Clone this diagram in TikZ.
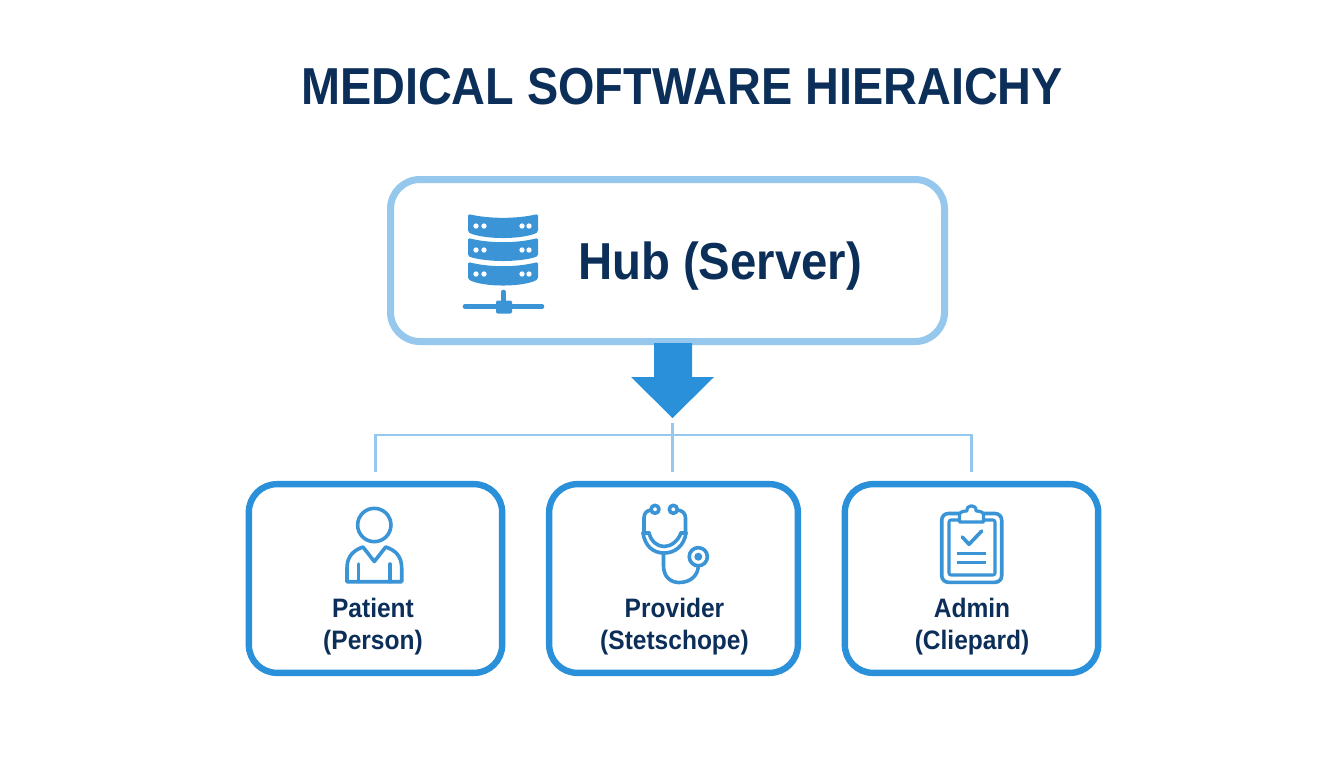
\documentclass[tikz,border=0pt]{standalone}
\usepackage{fontspec}
\usetikzlibrary{calc}
\setmainfont{Liberation Sans}
\newfontfamily\titlefont[FakeStretch=0.9]{Liberation Sans}
\newfontfamily\hubfont[FakeStretch=0.91]{Liberation Sans}
\newfontfamily\labelfont[FakeStretch=0.92]{Liberation Sans}
\definecolor{navy}{HTML}{0C2F5A}
\definecolor{midblue}{HTML}{2B90DA}
\definecolor{iconblue}{HTML}{3A94D6}
\definecolor{lightblue}{HTML}{96C8EE}
\tikzset{
  hubbox/.style={draw=lightblue,line width=5.25pt,rounded corners=22pt,minimum width=415.5pt,minimum height=121.5pt,outer sep=0pt,inner sep=0pt},
  childbox/.style={draw=midblue,line width=4.8pt,rounded corners=21pt,minimum height=141.5pt,outer sep=0pt,inner sep=0pt},
  busline/.style={draw=lightblue,line width=1.9pt},
  icon/.style={draw=iconblue,line width=2.7pt,line join=round,line cap=round},
  lbl/.style={text=navy,font=\labelfont\bfseries\fontsize{20}{24}\selectfont,align=center,inner sep=0pt}
}
\begin{document}
\begin{tikzpicture}[x=0.75pt,y=-0.75pt]
\useasboundingbox (0,0) rectangle (1344,768);
\fill[white] (0,0) rectangle (1344,768);
\node[text=navy,inner sep=0pt,font=\titlefont\bfseries\fontsize{39}{46}\selectfont] (title) at (682,87) {MEDICAL SOFTWARE HIERAICHY};
\node[hubbox] (hub) at (667.5,260.5) {};
\node[text=navy,inner sep=0pt,font=\hubfont\bfseries\fontsize{39}{46}\selectfont] (hublabel) at (720,266) {Hub (Server)};
\node[childbox,minimum width=190pt] (patient) at (375.5,578.5) {};
\node[childbox,minimum width=186.5pt] (provider) at (673.5,578.5) {};
\node[childbox,minimum width=190pt] (admin) at (971.5,578.5) {};
\node[lbl] (patientlabel) at (373,627) {Patient\\(Person)};
\node[lbl] (providerlabel) at (674.5,627) {Provider\\(Stetschope)};
\node[lbl] (adminlabel) at (972,627) {Admin\\(Cliepard)};
% arrow
\coordinate (atip) at (672.5,418);
\fill[midblue] (654,343) -- (692,343) -- (692,377) -- (714,377) -- (atip) -- (631,377) -- (654,377) -- cycle;
% bus
\coordinate (dropy) at (0,472);
\coordinate (busy) at (0,435);
\coordinate (stub) at (672.5,423);
\draw[busline] (patient.north |- dropy) -- (patient.north |- busy) -- (admin.north |- busy) -- (admin.north |- dropy);
\draw[busline] (stub) -- (stub |- dropy);
% server icon
\foreach \t/\d/\s/\b in {214/218/232/238,238/242.5/256/261,262/266.5/279/285.5}{
  \fill[iconblue,rounded corners=1.2pt] (468,\t) .. controls (490,\d+1) and (516,\d+1) .. (538,\t) -- (538,\s) .. controls (531,\b-2) and (516,\b) .. (503,\b) .. controls (490,\b) and (475,\b-2) .. (468,\s) -- cycle;
}
\foreach \y in {226,250,274}{\foreach \x in {476,484,522,529}{\fill[white] (\x,\y) circle[radius=2pt];}}
\draw[iconblue,line width=3.4pt,line cap=round] (465,306.5) -- (542,306.5);
\draw[iconblue,line width=3.4pt,line cap=round] (503.5,292) -- (503.5,305);
\fill[iconblue,rounded corners=1pt] (496,300.5) rectangle (512,313.5);
% person
\draw[icon] (374.3,525) circle[radius=12.5pt];
\draw[icon] (347,581.7) -- (347,568) .. controls (347,556) and (354,550) .. (363,547) -- (374.3,561.5) -- (385.7,547) .. controls (395,550) and (401.7,556) .. (401.7,568) -- (401.7,581.7) -- cycle;
\draw[icon] (358.3,564) -- (358.3,581.7);
\draw[icon] (390,564) -- (390,581.7);
% stethoscope
\draw[icon] (655,509.3) circle[radius=3pt];
\draw[icon] (673.3,509.3) circle[radius=3pt];
\draw[icon] (651,510) .. controls (647,510.5) and (644,513) .. (644,518) -- (644,533);
\draw[icon] (677.5,510) .. controls (682,510.5) and (685.5,513) .. (685.5,518) -- (685.5,533);
\draw[icon] (643,533) .. controls (645,546) and (653,553) .. (664,553) .. controls (675,553) and (684,546) .. (686,533);
\draw[icon] (649,533) .. controls (651,541) and (657,546.5) .. (664,546.5) .. controls (671,546.5) and (678,541) .. (681,533);
\draw[icon] (643,533) -- (649,533);
\draw[icon] (681,533) -- (686,533);
\draw[icon] (663.5,553) -- (663.5,566) .. controls (663.5,576) and (670,582.5) .. (679,582.5) .. controls (691,582.5) and (698,575) .. (698.3,566);
\draw[icon,fill=white] (698.3,556.7) circle[radius=6.8pt];
\fill[iconblue] (698.3,556.7) circle[radius=3pt];
% clipboard
\draw[icon,rounded corners=5pt] (941.7,513.5) rectangle (1001.7,582.3);
\draw[icon,line width=2.3pt,rounded corners=1.5pt] (949,520) rectangle (995,575);
\draw[icon,fill=white,line width=2.4pt] (959.5,522) -- (959.5,515) .. controls (959.5,512) and (963,511) .. (967,511) .. controls (966,504) and (977,504) .. (976,511) .. controls (980,511) and (983.5,512) .. (983.5,515) -- (983.5,522) -- cycle;
\draw[icon] (962.3,537) -- (969,544.3) -- (981.7,531);
\draw[icon,line cap=butt] (956.7,553.3) -- (985.7,553.3);
\draw[icon,line cap=butt] (956.7,562.3) -- (985.7,562.3);
\end{tikzpicture}
\end{document}
